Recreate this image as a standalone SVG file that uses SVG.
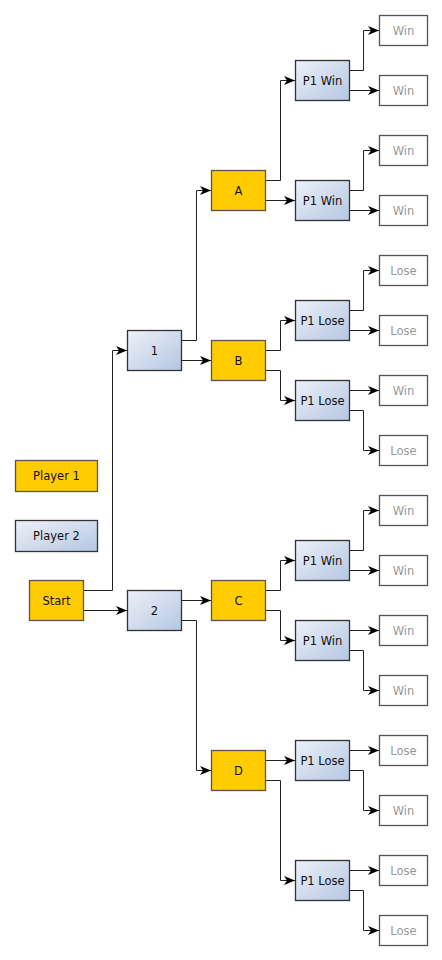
<svg xmlns="http://www.w3.org/2000/svg" width="442" height="960" viewBox="0 0 442 960">
<style>
.p1 rect{fill:#FFCC00;stroke:#555;stroke-width:1.3}
.p2 rect{fill:url(#blue);stroke:#333;stroke-width:1.3}
.lf rect{fill:#fff;stroke:#555;stroke-width:1.3}
text{font-family:"DejaVu Sans","Liberation Sans",sans-serif;font-size:11.5px;text-anchor:middle;dominant-baseline:central;fill:#111}
.lf text{fill:#999}
#edges path{fill:none;stroke:#222;stroke-width:1;marker-end:url(#ah)}
</style>
<defs>
<linearGradient id="blue" x1="0" y1="0" x2="1" y2="1">
<stop offset="0" stop-color="#EDF1F8"/>
<stop offset="1" stop-color="#B4C6E2"/>
</linearGradient>
<marker id="ah" viewBox="0 0 11 9" refX="11" refY="4.5" markerWidth="11" markerHeight="9" markerUnits="userSpaceOnUse" orient="auto">
<path d="M0,0 L11,4.5 L0,9 L3,4.5 Z" fill="#000"/>
</marker>
</defs>
<g id="edges">
<path d="M83,590.5 H112.5 V350.5 H127"/>
<path d="M83,610.5 H127"/>
<path d="M181,340.5 H196.5 V190.5 H211"/>
<path d="M181,360.5 H211"/>
<path d="M181,600.5 H211"/>
<path d="M181,620.5 H196.5 V770.5 H211"/>
<path d="M265,180.5 H280.5 V80.5 H295"/>
<path d="M265,200.5 H295"/>
<path d="M265,350.5 H280.5 V320.5 H295"/>
<path d="M265,370.5 H280.5 V400.5 H295"/>
<path d="M265,590.5 H280.5 V560.5 H295"/>
<path d="M265,610.5 H280.5 V640.5 H295"/>
<path d="M265,760.5 H295"/>
<path d="M265,780.5 H280.5 V880.5 H295"/>
<path d="M349,70.5 H363.5 V30.5 H379"/>
<path d="M349,90.5 H379"/>
<path d="M349,190.5 H363.5 V150.5 H379"/>
<path d="M349,210.5 H379"/>
<path d="M349,310.5 H363.5 V270.5 H379"/>
<path d="M349,330.5 H379"/>
<path d="M349,390.5 H379"/>
<path d="M349,410.5 H363.5 V450.5 H379"/>
<path d="M349,550.5 H363.5 V510.5 H379"/>
<path d="M349,570.5 H379"/>
<path d="M349,630.5 H379"/>
<path d="M349,650.5 H363.5 V690.5 H379"/>
<path d="M349,750.5 H379"/>
<path d="M349,770.5 H363.5 V810.5 H379"/>
<path d="M349,870.5 H379"/>
<path d="M349,890.5 H363.5 V930.5 H379"/>
</g>
<g id="legend1" class="p1"><rect x="15.5" y="460.5" width="82" height="31"/><text x="56.5" y="476">Player 1</text></g>
<g id="legend2" class="p2"><rect x="15.5" y="520.5" width="82" height="31"/><text x="56.5" y="536">Player 2</text></g>
<g id="start" class="p1"><rect x="29.5" y="580.5" width="54" height="40"/><text x="56.5" y="600.5">Start</text></g>
<g id="n1" class="p2"><rect x="127.5" y="330.5" width="54" height="40"/><text x="154.5" y="350.5">1</text></g>
<g id="n2" class="p2"><rect x="127.5" y="590.5" width="54" height="40"/><text x="154.5" y="610.5">2</text></g>
<g id="nA" class="p1"><rect x="211.5" y="170.5" width="54" height="40"/><text x="238.5" y="190.5">A</text></g>
<g id="nB" class="p1"><rect x="211.5" y="340.5" width="54" height="40"/><text x="238.5" y="360.5">B</text></g>
<g id="nC" class="p1"><rect x="211.5" y="580.5" width="54" height="40"/><text x="238.5" y="600.5">C</text></g>
<g id="nD" class="p1"><rect x="211.5" y="750.5" width="54" height="40"/><text x="238.5" y="770.5">D</text></g>
<g id="a1" class="p2"><rect x="295.5" y="60.5" width="54" height="40"/><text x="322.5" y="80.5">P1 Win</text></g>
<g id="a2" class="p2"><rect x="295.5" y="180.5" width="54" height="40"/><text x="322.5" y="200.5">P1 Win</text></g>
<g id="b1" class="p2"><rect x="295.5" y="300.5" width="54" height="40"/><text x="322.5" y="320.5">P1 Lose</text></g>
<g id="b2" class="p2"><rect x="295.5" y="380.5" width="54" height="40"/><text x="322.5" y="400.5">P1 Lose</text></g>
<g id="c1" class="p2"><rect x="295.5" y="540.5" width="54" height="40"/><text x="322.5" y="560.5">P1 Win</text></g>
<g id="c2" class="p2"><rect x="295.5" y="620.5" width="54" height="40"/><text x="322.5" y="640.5">P1 Win</text></g>
<g id="d1" class="p2"><rect x="295.5" y="740.5" width="54" height="40"/><text x="322.5" y="760.5">P1 Lose</text></g>
<g id="d2" class="p2"><rect x="295.5" y="860.5" width="54" height="40"/><text x="322.5" y="880.5">P1 Lose</text></g>
<g id="l1" class="lf"><rect x="379.5" y="15.5" width="48" height="30"/><text x="403.5" y="30.5">Win</text></g>
<g id="l2" class="lf"><rect x="379.5" y="75.5" width="48" height="30"/><text x="403.5" y="90.5">Win</text></g>
<g id="l3" class="lf"><rect x="379.5" y="135.5" width="48" height="30"/><text x="403.5" y="150.5">Win</text></g>
<g id="l4" class="lf"><rect x="379.5" y="195.5" width="48" height="30"/><text x="403.5" y="210.5">Win</text></g>
<g id="l5" class="lf"><rect x="379.5" y="255.5" width="48" height="30"/><text x="403.5" y="270.5">Lose</text></g>
<g id="l6" class="lf"><rect x="379.5" y="315.5" width="48" height="30"/><text x="403.5" y="330.5">Lose</text></g>
<g id="l7" class="lf"><rect x="379.5" y="375.5" width="48" height="30"/><text x="403.5" y="390.5">Win</text></g>
<g id="l8" class="lf"><rect x="379.5" y="435.5" width="48" height="30"/><text x="403.5" y="450.5">Lose</text></g>
<g id="l9" class="lf"><rect x="379.5" y="495.5" width="48" height="30"/><text x="403.5" y="510.5">Win</text></g>
<g id="l10" class="lf"><rect x="379.5" y="555.5" width="48" height="30"/><text x="403.5" y="570.5">Win</text></g>
<g id="l11" class="lf"><rect x="379.5" y="615.5" width="48" height="30"/><text x="403.5" y="630.5">Win</text></g>
<g id="l12" class="lf"><rect x="379.5" y="675.5" width="48" height="30"/><text x="403.5" y="690.5">Win</text></g>
<g id="l13" class="lf"><rect x="379.5" y="735.5" width="48" height="30"/><text x="403.5" y="750.5">Lose</text></g>
<g id="l14" class="lf"><rect x="379.5" y="795.5" width="48" height="30"/><text x="403.5" y="810.5">Win</text></g>
<g id="l15" class="lf"><rect x="379.5" y="855.5" width="48" height="30"/><text x="403.5" y="870.5">Lose</text></g>
<g id="l16" class="lf"><rect x="379.5" y="915.5" width="48" height="30"/><text x="403.5" y="930.5">Lose</text></g>
</svg>
